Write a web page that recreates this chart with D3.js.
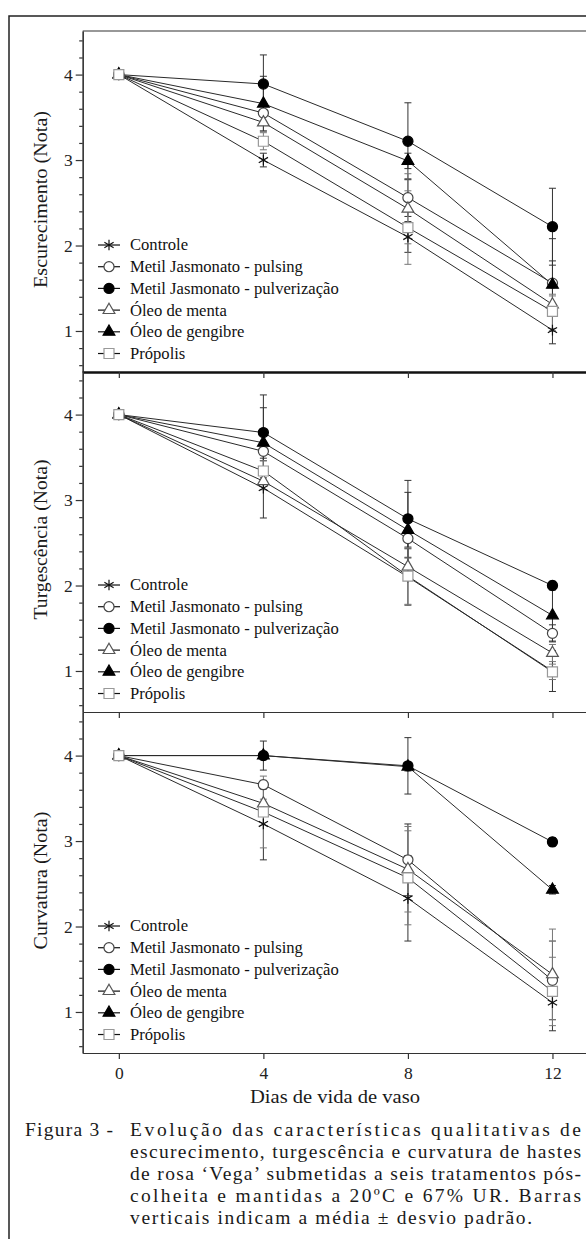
<!DOCTYPE html>
<head>
  <meta charset="utf-8">
  <script src="https://d3js.org/d3.v7.min.js"></script>
  <style>
    body { margin: 0; background: #fff; }
    svg, svg text { font-family: "Liberation Serif", "Times New Roman", Times, "DejaVu Serif", serif !important; }
    text { fill: #1a1a1a; }
    .axis path, .axis line { stroke: #333; stroke-width: 1.2px; }
    .axis text { font-size: 17.5px; fill: #222; }
  </style>
</head>
<body>
  <div id="chart"></div>
  <script>
    // ---- data ----
    var days = [0, 4, 8, 12];
    var treatments = ["Controle", "Metil Jasmonato - pulsing", "Metil Jasmonato - pulverização",
      "Óleo de menta", "Óleo de gengibre", "Própolis"];
    var panelTitles = ["Escurecimento (Nota)", "Turgescência (Nota)", "Curvatura (Nota)"];
    var yTickValues = [1, 2, 3, 4];
    var yMinorTicks = [0.6, 0.8, 1.2, 1.4, 1.6, 1.8, 2.2, 2.4, 2.6, 2.8, 3.2, 3.4, 3.6, 3.8, 4.2, 4.4];

    // means, one row per treatment, one column per day
    var escurecimento = [
      [4, 3.00, 2.10, 1.01],
      [4, 3.55, 2.56, 1.56],
      [4, 3.89, 3.22, 2.22],
      [4, 3.44, 2.43, 1.31],
      [4, 3.66, 2.99, 1.54],
      [4, 3.22, 2.21, 1.23]
    ];
    var escurecimentoSD = [
      [0, 0.08, 0.18, 0.16],
      [0, 0.10, 0.22, 0.26],
      [0, 0.34, 0.45, 0.45],
      [0, 0.10, 0.41, 0.10],
      [0, 0.32, 0.09, 0.54],
      [0, 0.10, 0.43, 0.20]
    ];
    var turgescencia = [
      [4, 3.14, 2.10, 1.00],
      [4, 3.57, 2.55, 1.44],
      [4, 3.79, 2.78, 2.00],
      [4, 3.22, 2.22, 1.21],
      [4, 3.67, 2.65, 1.65],
      [4, 3.34, 2.11, 0.99]
    ];
    var turgescenciaSD = [
      [0, 0.35, 0.33, 0.24],
      [0, 0.11, 0.10, 0.10],
      [0, 0.44, 0.45, 0.05],
      [0, 0.10, 0.10, 0.10],
      [0, 0.41, 0.44, 0.30],
      [0, 0.12, 0.33, 0.09]
    ];
    var curvatura = [
      [4, 3.20, 2.33, 1.11],
      [4, 3.66, 2.78, 1.37],
      [4, 4.00, 3.88, 2.99],
      [4, 3.44, 2.67, 1.44],
      [4, 4.00, 3.87, 2.43],
      [4, 3.34, 2.57, 1.24]
    ];
    var curvaturaSD = [
      [0, 0.42, 0.50, 0.33],
      [0, 0.05, 0.42, 0.46],
      [0, 0.17, 0.33, 0.05],
      [0, 0.05, 0.50, 0.53],
      [0, 0.05, 0.05, 0.05],
      [0, 0.42, 0.55, 0.40]
    ];
    var captionLines = [
      "Figura 3 -",
      "Evolução das características qualitativas de",
      "escurecimento, turgescência e curvatura de hastes",
      "de rosa ‘Vega’ submetidas a seis tratamentos pós-",
      "colheita e mantidas a 20ºC e 67% UR. Barras",
      "verticais indicam a média ± desvio padrão."
    ];

    var panelMeans = [escurecimento, turgescencia, curvatura];
    var panelSD = [escurecimentoSD, turgescenciaSD, curvaturaSD];

    // ---- layout ----
    var W = 586, H = 1239;
    var left = 82.7, right = 588.6;
    var panelTop = [31, 371, 712], panelH = 341;
    var titleLen = [177, 160, 138];

    var svg = d3.select("#chart").append("svg")
      .attr("width", W).attr("height", H);

    // outer frame
    svg.append("rect")
      .attr("x", 9).attr("y", 16)
      .attr("width", 620).attr("height", 1300)
      .attr("fill", "none").attr("stroke", "#222").attr("stroke-width", 1.5);

    var x = d3.scaleLinear().domain([-1, 13]).range([left, right]);

    // marker styles per treatment
    var markers = [
      {type: d3.symbolAsterisk, size: 80, fill: "none", stroke: "#111"},
      {type: d3.symbolCircle, size: 80, fill: "#fff", stroke: "#444"},
      {type: d3.symbolCircle, size: 80, fill: "#000", stroke: "#000"},
      {type: d3.symbolTriangle, size: 60, fill: "#fff", stroke: "#555"},
      {type: d3.symbolTriangle, size: 60, fill: "#000", stroke: "#000"},
      {type: d3.symbolSquare, size: 100, fill: "#fff", stroke: "#999"}
    ];
    var sym = d3.symbol();

    function drawMarker(g, i, cx, cy) {
      var m = markers[i];
      g.append("path")
        .attr("transform", "translate(" + cx + "," + cy + ")")
        .attr("d", sym.type(m.type).size(m.size)())
        .attr("fill", m.fill)
        .attr("stroke", m.stroke)
        .attr("stroke-width", 1.2);
    }

    panelMeans.forEach(function (means, p) {
      var top = panelTop[p], bottom = top + panelH;
      var y = d3.scaleLinear().domain([0.52, 4.51]).range([bottom, top]);
      var g = svg.append("g");

      // y axis with minor ticks
      g.append("g").attr("class", "axis")
        .attr("transform", "translate(" + left + ",0)")
        .call(d3.axisLeft(y).tickValues(yMinorTicks).tickSize(3.5).tickFormat("").tickSizeOuter(0));
      g.append("g").attr("class", "axis")
        .attr("transform", "translate(" + left + ",0)")
        .call(d3.axisLeft(y).tickValues(yTickValues).tickSize(7).tickPadding(3)
          .tickFormat(d3.format("d")).tickSizeOuter(0));

      // x axis at bottom of each panel
      var xa = g.append("g").attr("class", "axis")
        .attr("transform", "translate(0," + bottom + ")")
        .call(d3.axisBottom(x).tickValues(days).tickSize(6).tickPadding(8).tickSizeOuter(0)
          .tickFormat(p === 2 ? d3.format("d") : ""));
      if (p === 0) xa.select(".domain").style("stroke-width", "2.4px").style("stroke", "#111");

      if (p === 0) {
        g.append("line")
          .attr("x1", left).attr("x2", W + 10)
          .attr("y1", top).attr("y2", top)
          .attr("stroke", "#333").attr("stroke-width", 1.2);
      }

      // y title
      g.append("text")
        .attr("transform", "translate(40," + (top + panelH / 2 - 2) + ") rotate(-90)")
        .attr("text-anchor", "middle")
        .attr("dy", "0.35em")
        .style("font-size", "19px")
        .attr("textLength", titleLen[p])
        .attr("lengthAdjust", "spacingAndGlyphs")
        .text(panelTitles[p]);

      var line = d3.line()
        .x(function (d, k) { return x(days[k]); })
        .y(function (d) { return y(d); });

      // connecting lines
      means.forEach(function (row) {
        g.append("path")
          .attr("d", line(row))
          .attr("fill", "none")
          .attr("stroke", "#2a2a2a")
          .attr("stroke-width", 1);
      });

      // error bars
      means.forEach(function (row, i) {
        row.forEach(function (v, k) {
          var sd = panelSD[p][i][k];
          if (!sd) return;
          var cx = x(days[k]);
          var col = (i === 5 || i === 3) ? "#777" : "#333";
          g.append("line")
            .attr("x1", cx).attr("x2", cx)
            .attr("y1", y(v - sd)).attr("y2", y(v + sd))
            .attr("stroke", col).attr("stroke-width", 1);
          [v - sd, v + sd].forEach(function (e) {
            g.append("line")
              .attr("x1", cx - 3.5).attr("x2", cx + 3.5)
              .attr("y1", y(e)).attr("y2", y(e))
              .attr("stroke", col).attr("stroke-width", 1);
          });
        });
      });

      // markers
      means.forEach(function (row, i) {
        row.forEach(function (v, k) {
          drawMarker(g, i, x(days[k]), y(v));
        });
      });

      // legend
      var ly0 = y(2) - 0.5;
      treatments.forEach(function (name, i) {
        var ly = ly0 + i * 21.7;
        g.append("line")
          .attr("x1", 98).attr("x2", 120)
          .attr("y1", ly).attr("y2", ly)
          .attr("stroke", "#111").attr("stroke-width", 1.2);
        drawMarker(g, i, 109, ly);
        g.append("text")
          .attr("x", 130).attr("y", ly)
          .attr("dy", "0.33em")
          .style("font-size", "16.6px")
          .style("fill", "#111")
          .text(name);
      });
    });

    // x title
    svg.append("text")
      .attr("x", 250).attr("y", 1103)
      .style("font-size", "18px")
      .attr("textLength", 170)
      .attr("lengthAdjust", "spacingAndGlyphs")
      .text("Dias de vida de vaso");

    // caption (justified lines)
    var cap = svg.append("g").style("font-size", "19.5px");
    cap.append("text").attr("x", 25).attr("y", 1136)
      .attr("textLength", 88).attr("lengthAdjust", "spacing").text(captionLines[0]);
    var capY = [1136, 1158, 1180, 1202, 1224];
    captionLines.slice(1).forEach(function (t, i) {
      var el = cap.append("text").attr("x", 130).attr("y", capY[i]).text(t);
      el.attr("textLength", i < 4 ? 451 : 402).attr("lengthAdjust", "spacing");
    });
  </script>
</body>
